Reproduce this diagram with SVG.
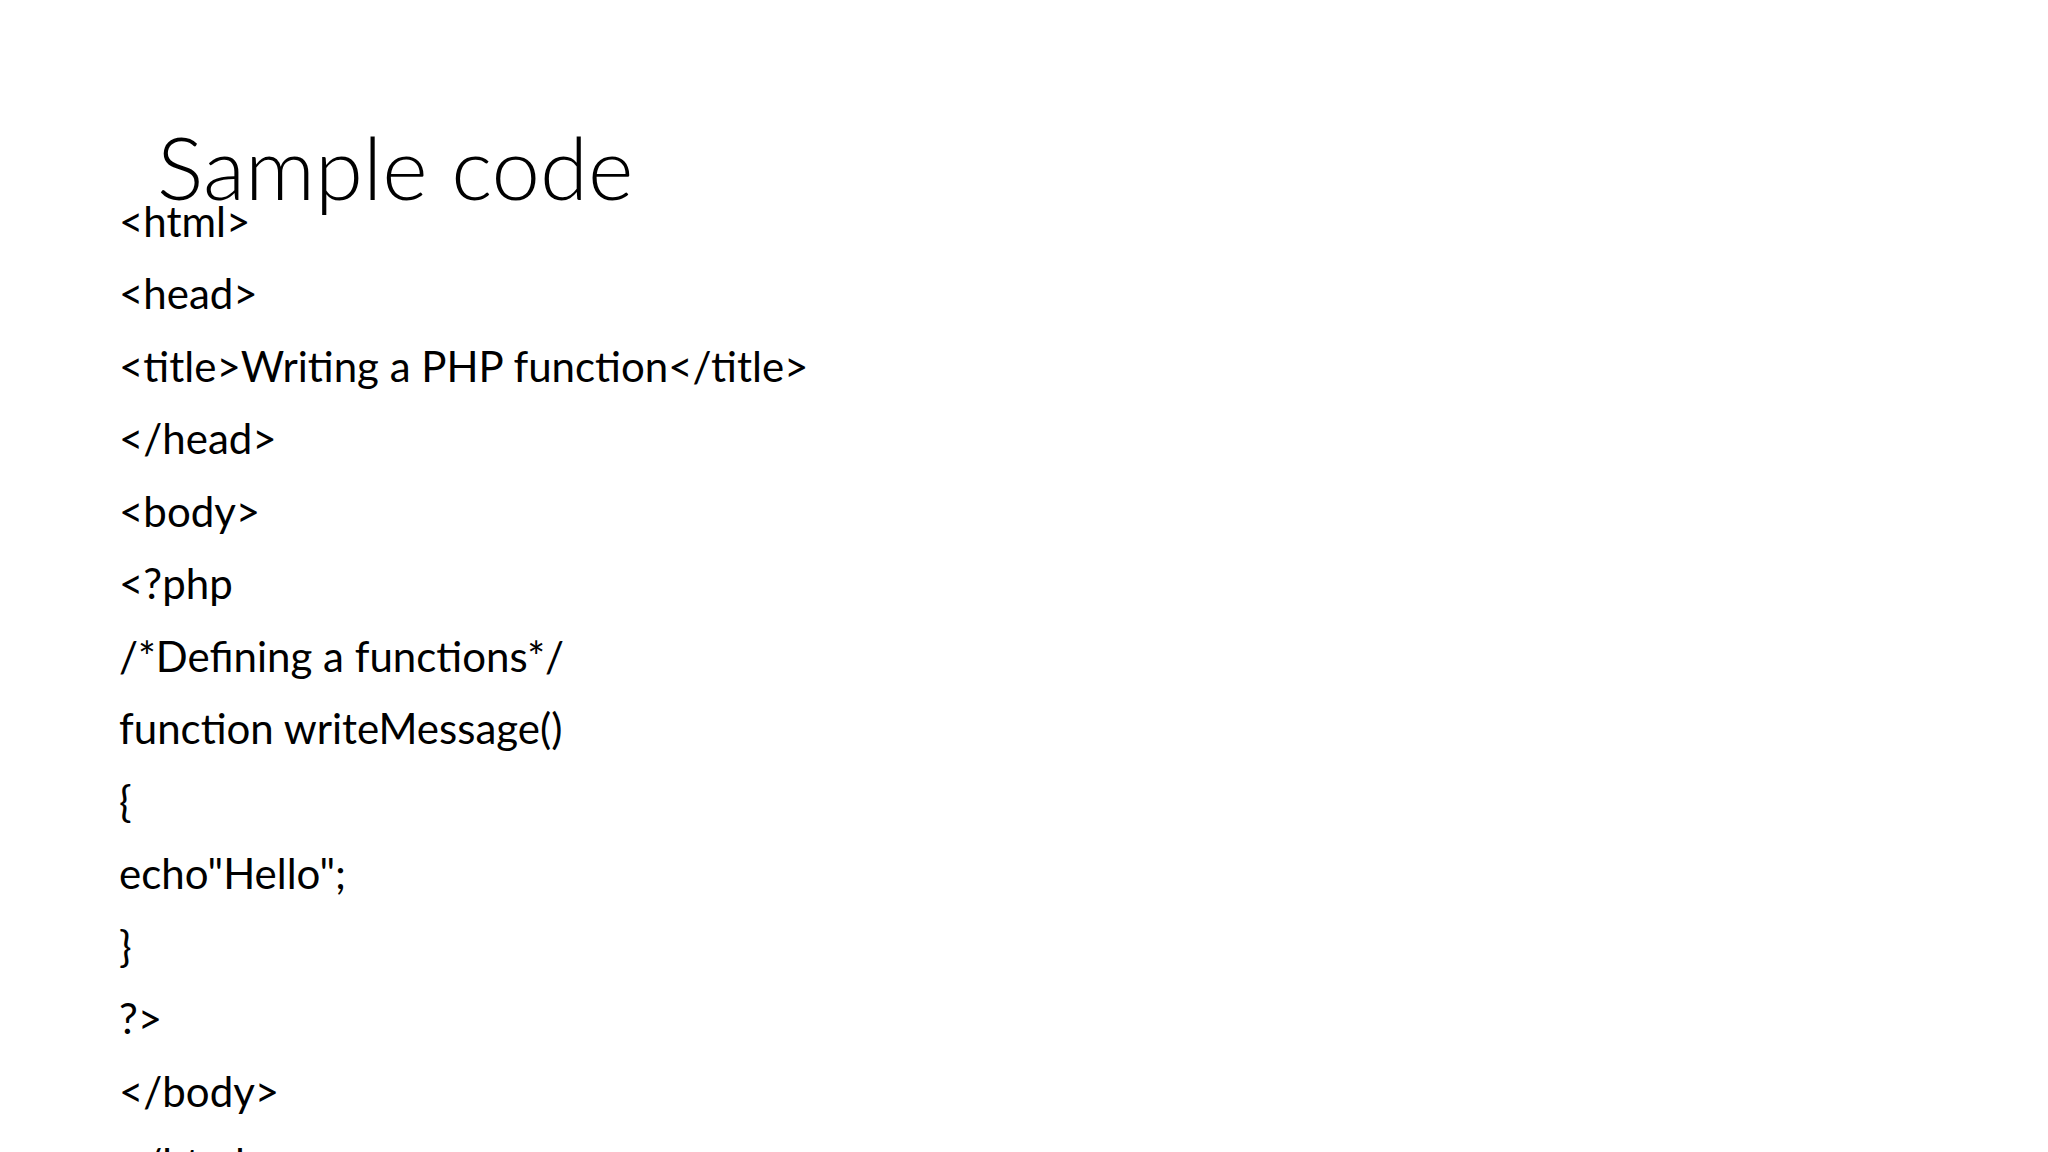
<svg xmlns="http://www.w3.org/2000/svg" width="2048" height="1152" viewBox="0 0 2048 1152">
<style>
.t{font-family:Lato,"Open Sans",sans-serif;font-weight:300;font-size:87px;fill:#000}
.c{font-family:Lato,"Open Sans",sans-serif;font-size:42px;fill:#000}
</style>
<rect width="2048" height="1152" fill="#fff"/>
<g id="title"><text class="t" x="157" y="200">Sample code</text></g>
<g id="code">
<text class="c" x="119" y="237">&lt;html&gt;</text>
<text class="c" x="119" y="309">&lt;head&gt;</text>
<text class="c" x="119" y="382">&lt;title&gt;Writing a PHP function&lt;/title&gt;</text>
<text class="c" x="119" y="454">&lt;/head&gt;</text>
<text class="c" x="119" y="527">&lt;body&gt;</text>
<text class="c" x="119" y="599">&lt;?php</text>
<text class="c" x="119" y="672">/*Defining a functions*/</text>
<text class="c" x="119" y="744">function writeMessage()</text>
<text class="c" x="119" y="817">{</text>
<text class="c" x="119" y="889">echo"Hello";</text>
<text class="c" x="119" y="962">}</text>
<text class="c" x="119" y="1034">?&gt;</text>
<text class="c" x="119" y="1107">&lt;/body&gt;</text>
<text class="c" x="119" y="1179">&lt;/html&gt;</text>
</g>
</svg>
